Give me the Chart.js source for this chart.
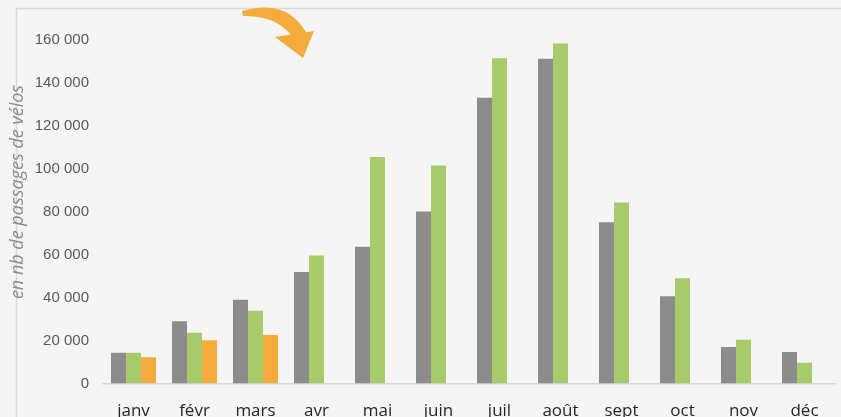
<!DOCTYPE html>
<html>
<head>
<meta charset="utf-8">
<script src="https://cdn.jsdelivr.net/npm/chart.js@4/dist/chart.umd.min.js"></script>
<style>
    html, body { margin: 0; padding: 0; background: #f5f5f5; }
    #wrap { width: 841px; height: 417px; overflow: hidden; }
</style>
</head>
<body>
<div id="wrap"><canvas id="velosChart" width="841" height="417"></canvas></div>
<script>
// mois
const months = ['janv', 'févr', 'mars', 'avr', 'mai', 'juin', 'juil', 'août', 'sept', 'oct', 'nov', 'déc'];

// nb de passages de vélos par mois
const seriesGray = [14300, 29000, 38900, 51900, 63600, 80000, 132900, 151000, 75000, 40600, 17000, 14600];
const seriesGreen = [14300, 23600, 33800, 59500, 105400, 101400, 151300, 158100, 84200, 49000, 20300, 9600];
const seriesOrange = [12200, 20100, 22600, null, null, null, null, null, null, null, null, null];

const seriesNames = ['2018', '2019', '2020'];

const yTicks = { min: 0, max: 160000, step: 20000 };
const yTitle = 'en nb de passages de vélos';

// format "160 000"
function formatNumber(v) {
    return String(v).replace(/\B(?=(\d{3})+(?!\d))/g, ' ');
}

// cadre gris, titre de l'axe y, flèche orange
const decorPlugin = {
    id: 'decor',
    beforeDraw(chart) {
        const ctx = chart.ctx;
        ctx.save();
        ctx.fillStyle = '#f5f5f5';
        ctx.fillRect(0, 0, chart.width, chart.height);
        ctx.strokeStyle = '#d9d9d9';
        ctx.lineWidth = 1.5;
        ctx.beginPath();
        ctx.moveTo(16.5, chart.height);
        ctx.lineTo(16.5, 8.5);
        ctx.lineTo(chart.width, 8.5);
        ctx.stroke();

        // titre vertical, un peu au-dessus du centre comme sur l'original
        ctx.translate(18, 192);
        ctx.rotate(-Math.PI / 2);
        ctx.font = 'italic 18px "Open Sans"';
        ctx.fillStyle = '#8a8a8a';
        ctx.textAlign = 'center';
        ctx.textBaseline = 'middle';
        ctx.fillText(yTitle, 0, 0);
        ctx.restore();
    },
    afterDraw(chart) {
        const ctx = chart.ctx;
        ctx.save();
        ctx.fillStyle = '#f3ac3c';
        // corps de la flèche
        ctx.beginPath();
        ctx.moveTo(242, 11);
        ctx.quadraticCurveTo(290, -3, 309, 38);
        ctx.lineTo(296, 42);
        ctx.quadraticCurveTo(280, 15, 243, 16);
        ctx.closePath();
        ctx.fill();
        // pointe
        ctx.beginPath();
        ctx.moveTo(275, 37);
        ctx.lineTo(314, 31);
        ctx.lineTo(303, 58);
        ctx.closePath();
        ctx.fill();
        ctx.restore();
    }
};

const ctx = document.getElementById('velosChart').getContext('2d');

new Chart(ctx, {
    type: 'bar',
    data: {
        labels: months,
        datasets: [
            { label: seriesNames[0], data: seriesGray, backgroundColor: '#8c8c8c' },
            { label: seriesNames[1], data: seriesGreen, backgroundColor: '#a7ca6a' },
            { label: seriesNames[2], data: seriesOrange, backgroundColor: '#f3ac3c' }
        ]
    },
    options: {
        responsive: false,
        animation: false,
        datasets: {
            bar: {
                barPercentage: 1,
                categoryPercentage: 0.738
            }
        },
        layout: {
            padding: { top: 39.5, right: 6, bottom: 0, left: 0 }
        },
        scales: {
            x: {
                grid: { display: false, drawTicks: false },
                border: { display: true, color: '#d9d9d9', width: 1.5 },
                ticks: {
                    color: '#262626',
                    padding: 17,
                    maxRotation: 0,
                    autoSkip: false,
                    font: { family: '"Open Sans"', size: 17 }
                },
                afterFit: scale => { scale.height = 33.5; }
            },
            y: {
                min: yTicks.min,
                max: yTicks.max,
                grid: { display: false, drawTicks: false },
                border: { display: false },
                ticks: {
                    stepSize: yTicks.step,
                    color: '#595959',
                    padding: 14,
                    font: { family: '"Liberation Sans", Arial', size: 15 },
                    callback: value => formatNumber(value)
                },
                afterFit: scale => { scale.width = 103; }
            }
        },
        plugins: {
            legend: { display: false },
            tooltip: { enabled: false }
        }
    },
    plugins: [decorPlugin]
});
</script>
</body>
</html>
